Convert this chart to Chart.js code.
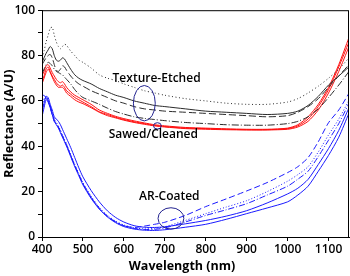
<!DOCTYPE html>
<html>
<head>
<meta charset="utf-8">
<script src="https://cdn.jsdelivr.net/npm/chart.js@4.4.0/dist/chart.umd.min.js"></script>
<style>
  html, body { margin: 0; padding: 0; background: #fff; }
  #wrap { width: 350px; height: 276px; }
</style>
</head>
<body>
<div id="wrap"><canvas id="reflChart" width="350" height="276"></canvas></div>
<script>
const wavelengths = [400,405,410,415,420,425,430,435,440,445,450,455,460,470,480,490,500,520,540,560,580,600,625,650,675,700,750,800,850,900,950,1000,1025,1050,1075,1100,1125,1150];

// texture-etched (black)
const etchedDotted = [79,82,86,89,92,92.5,89,86,84,83,84,85,84.5,82,80,78,77,74.5,71.5,70,69,67.5,66,64.5,63.5,62.5,61,60,59,58.5,58.5,59.5,61,63.5,66.5,70,74,79];
const etchedSolid  = [77,79,81,82.5,84,83,80,78,77.5,78,79,78.5,77,74,71.5,70,69,67.5,65.5,64,62.5,61.5,60,59,58,57.5,56.5,55.5,55,54.5,54,54.5,55.5,58,62,67,71,75];
const etchedDashed = [76,77.5,79,80,80.5,79,76,73.5,73,74,75.5,75,73.5,71,69,67.5,66.5,64.5,63,61.5,60,59,57.5,56.5,56,55.5,55,54.5,54,53.5,53,53.5,55,57.5,61,66,71,76];
const etchedDashDot = [72,74,76,77,76.5,75.5,74,73,72.5,72,71.5,70.5,69.5,67.5,65,63,61.5,60,58.5,56.8,55.3,54.2,53,52.3,51.8,51.3,50.5,50,49.5,49.3,49.3,50,51,53,56.5,61.5,67,73];

// sawed/cleaned (red)
const sawedA = [71,73,75.5,76,74.5,72.5,71,69.5,68.5,68,68.5,67.5,66,64,62.5,61.5,60.5,58.5,56,54.5,53.2,52.2,51.2,50.3,49.5,49,48.3,48,47.7,47.5,47.5,48,49.5,53,58.5,66,76,88];
const sawedB = [69,71,74,75,73,71,69.5,68,67,66.5,67,66,64.5,63,61.5,60.5,59.5,57.5,55.2,54,52.8,51.8,50.8,50,49.2,48.7,48,47.8,47.5,47.3,47.3,47.8,49,52,57.5,65,75,86];
const sawedC = [67.5,70,72.5,74,72.5,70.5,68.5,67,66,66,66,65,63.5,62,60.5,59.5,58.8,57,55,53.5,52.5,51.5,50.5,49.7,49,48.5,47.8,47.5,47.3,47.2,47.2,47.5,48.5,51,56,63.5,73,84];

// AR-coated (blue)
const arDashed  = [62,62.5,61,59.5,57,54,51,50,48.5,46.5,44.5,42.5,40.5,36,31.5,27.5,23.5,17.5,12.5,9,6.5,5,4.2,4.8,5.6,6.5,9.5,13.4,16.8,20.3,24,28.4,31,35,42,50.4,56,63.4];
const arDotted  = [58,61,62,60.5,58,55,52,50.5,49,47,45,43,41,36.5,32,28,24,18,13,9.5,7,5.3,4,3.6,3.8,4.5,7.3,10.3,13.2,16,20,24.6,27.5,31,37.5,45,52,60.3];
const arDashDot = [56,60,61.5,60,57.5,54.5,51.5,50,48.5,46.5,44.5,42.5,40.5,36,31.5,27.5,23.5,17.5,12.8,9.2,6.7,5,3.8,3.3,3.4,4,6.6,9.5,12,14.7,18.5,22.4,25.5,29,35.5,42.7,50,59];
const arSolidA  = [55,59,62,61.5,58.5,56,53,52,51,49.5,47.5,45.5,43.5,39.5,35,30.5,26.5,20.5,15.5,11.5,8.6,6.6,5,4.3,4.2,4.5,5.8,7.3,9.2,11.6,15,19,21.5,25.4,32,39,47,57];
const arSolidB  = [53,57,60.5,60,57,54,51,49.5,48,46,44,42,40,35.5,31,27,23,17,12.3,8.8,6.3,4.6,3.5,3,2.9,3.2,4.3,5.6,7.8,10.3,12.8,15.5,18.5,22.4,29,36,44,54.7];

const xTickValues = [400,500,600,700,800,900,1000,1100];
const yTickValues = [0,20,40,60,80,100];

const labels = [
  { text: 'Texture-Etched', x: 680, y: 69.8 },
  { text: 'Sawed/Cleaned', x: 672, y: 45.3 },
  { text: 'AR-Coated', x: 711, y: 17.7 }
];
const rings = [
  { x: 650, y: 59, rx: 26.7, ry: 7.8 },
  { x: 682, y: 49, rx: 9.5, ry: 1.4 },
  { x: 715, y: 8.2, rx: 31.5, ry: 4.7 }
];

const FONT = "'Open Sans', 'DejaVu Sans', sans-serif";

function pts(arr) {
  return arr.map((v, i) => ({ x: wavelengths[i], y: v }));
}

function line(arr, color, dash) {
  return {
    data: pts(arr),
    borderColor: color,
    borderWidth: 1,
    borderDash: dash || [],
    pointRadius: 0,
    tension: 0.25,
    fill: false
  };
}

const GREY = '#2b2b2b';
const RED = '#ff1010';
const BLUE = '#1a1aff';

const datasets = [
  line(etchedDotted, GREY, [1, 2.5]),
  line(etchedSolid, GREY),
  line(etchedDashed, GREY, [7, 3]),
  line(etchedDashDot, GREY, [7, 2, 1, 2]),
  line(sawedC, RED),
  line(sawedB, RED),
  line(sawedA, RED),
  line(arSolidB, BLUE),
  line(arSolidA, BLUE),
  line(arDashDot, BLUE, [6, 2, 1, 2]),
  line(arDotted, BLUE, [1, 2]),
  line(arDashed, BLUE, [6, 3])
];

// labels, rings, frame and x title
const notesPlugin = {
  id: 'notes',
  afterDatasetsDraw(chart) {
    const { ctx, chartArea: a, scales: { x, y } } = chart;
    ctx.save();
    ctx.strokeStyle = '#23238f';
    ctx.lineWidth = 1;
    rings.forEach(r => {
      const cx = x.getPixelForValue(r.x);
      const cy = y.getPixelForValue(r.y);
      const rx = Math.abs(x.getPixelForValue(r.x + r.rx) - cx);
      const ry = Math.abs(y.getPixelForValue(r.y + r.ry) - cy);
      ctx.beginPath();
      ctx.ellipse(cx, cy, rx, ry, 0, 0, Math.PI * 2);
      ctx.stroke();
    });
    ctx.fillStyle = '#000';
    ctx.font = '600 12px ' + FONT;
    ctx.textAlign = 'center';
    ctx.textBaseline = 'middle';
    labels.forEach(l => {
      ctx.fillText(l.text, x.getPixelForValue(l.x), y.getPixelForValue(l.y));
    });
    ctx.font = 'bold 12.5px ' + FONT;
    ctx.fillText('Wavelength (nm)', 182, 266);
    ctx.strokeStyle = '#000';
    ctx.strokeRect(a.left + 0.5, a.top + 0.5, a.right - a.left - 1, a.bottom - a.top);
    ctx.restore();
  }
};

new Chart(document.getElementById('reflChart').getContext('2d'), {
  type: 'line',
  data: { datasets },
  options: {
    responsive: false,
    animation: false,
    layout: { padding: { top: 5, right: 1, left: 0, bottom: 0 } },
    plugins: { legend: { display: false }, tooltip: { enabled: false } },
    scales: {
      x: {
        type: 'linear',
        min: 400,
        max: 1150,
        afterBuildTicks: s => { s.ticks = xTickValues.map(v => ({ value: v })); },
        afterFit: s => { s.height = 39; },
        border: { display: true, color: '#000', width: 1 },
        grid: { drawOnChartArea: false, drawTicks: true, tickLength: 4, color: '#000' },
        ticks: {
          color: '#000',
          padding: 1,
          maxRotation: 0,
          font: { family: FONT, size: 12, weight: '600' },
          callback: v => String(v)
        }
      },
      y: {
        type: 'linear',
        min: 0,
        max: 100,
        afterBuildTicks: s => {
          const t = [];
          for (let v = 0; v <= 100; v += 10) t.push({ value: v });
          s.ticks = t;
        },
        afterFit: s => { s.width = 42; },
        border: { display: true, color: '#000', width: 1 },
        grid: { drawOnChartArea: false, drawTicks: true, tickLength: 4, color: '#000' },
        ticks: {
          color: '#000',
          padding: 3,
          font: { family: FONT, size: 12, weight: '600' },
          callback: v => yTickValues.includes(v) ? String(v) : ''
        },
        title: {
          display: true,
          text: 'Reflectance (A/U)',
          color: '#000',
          padding: { top: 2, bottom: 0 },
          font: { family: FONT, size: 12.5, weight: 'bold' }
        }
      }
    }
  },
  plugins: [notesPlugin]
});
</script>
</body>
</html>
